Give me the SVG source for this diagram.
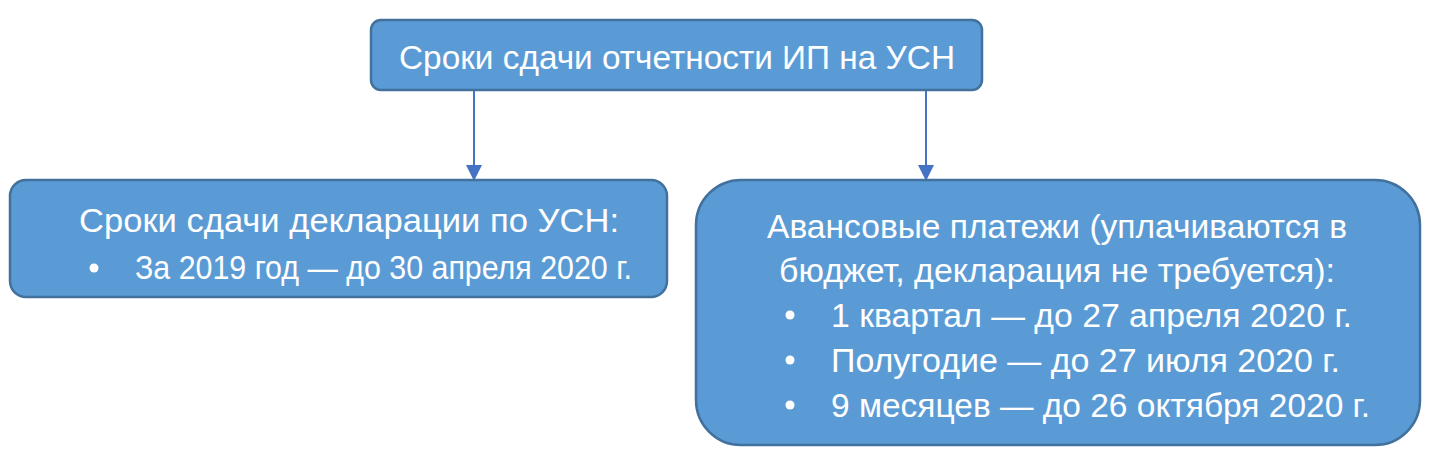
<svg xmlns="http://www.w3.org/2000/svg" width="1433" height="472" viewBox="0 0 1433 472">
<defs>
<style>
.box{fill:#5b9bd5;stroke:#41719c;stroke-width:2.5}
.t{fill:#ffffff;font-family:"Liberation Sans",Arial,sans-serif;font-size:34px}
.c{text-anchor:middle}
.line{stroke:#4472c4;stroke-width:2;fill:none}
</style>
<marker id="arr" markerWidth="16" markerHeight="16" refX="15" refY="8" orient="auto" markerUnits="userSpaceOnUse">
<path d="M0,0 L16,8 L0,16 Z" fill="#4472c4"/>
</marker>
</defs>
<rect width="1433" height="472" fill="#ffffff"/>
<g id="connectors">
<line class="line" x1="474" y1="90" x2="474" y2="180" marker-end="url(#arr)"/>
<line class="line" x1="926" y1="90" x2="926" y2="180" marker-end="url(#arr)"/>
</g>
<g id="top">
<rect class="box" x="371" y="20" width="611" height="70" rx="10"/>
<text class="t" x="399" y="69" textLength="556" lengthAdjust="spacingAndGlyphs">Сроки сдачи отчетности ИП на УСН</text>
</g>
<g id="left">
<rect class="box" x="10" y="180" width="657" height="117" rx="16"/>
<text class="t" x="79" y="232" textLength="540" lengthAdjust="spacingAndGlyphs">Сроки сдачи декларации по УСН:</text>
<circle cx="94" cy="268" r="4.5" fill="#ffffff"/>
<text class="t" x="135" y="279" textLength="497" lengthAdjust="spacingAndGlyphs">За 2019 год — до 30 апреля 2020 г.</text>
</g>
<g id="right">
<rect class="box" x="696" y="180" width="724" height="265" rx="45"/>
<text class="t" x="767" y="238" textLength="580" lengthAdjust="spacingAndGlyphs">Авансовые платежи (уплачиваются в</text>
<text class="t" x="779" y="282" textLength="556" lengthAdjust="spacingAndGlyphs">бюджет, декларация не требуется):</text>
<circle cx="790" cy="315" r="4.5" fill="#ffffff"/>
<text class="t" x="831" y="327" textLength="521" lengthAdjust="spacingAndGlyphs">1 квартал — до 27 апреля 2020 г.</text>
<circle cx="790" cy="360" r="4.5" fill="#ffffff"/>
<text class="t" x="831" y="372" textLength="509" lengthAdjust="spacingAndGlyphs">Полугодие — до 27 июля 2020 г.</text>
<circle cx="790" cy="405" r="4.5" fill="#ffffff"/>
<text class="t" x="831" y="417" textLength="539" lengthAdjust="spacingAndGlyphs">9 месяцев — до 26 октября 2020 г.</text>
</g>
</svg>
